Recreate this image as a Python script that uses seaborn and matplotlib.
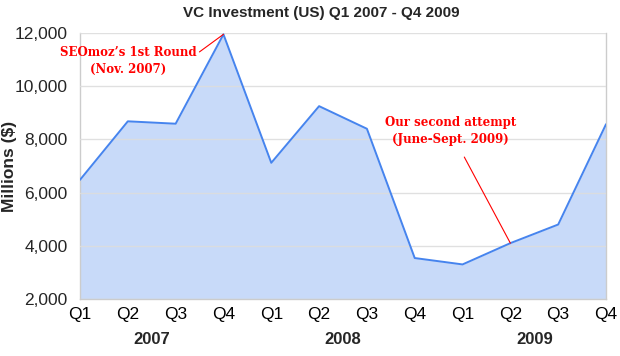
import matplotlib
matplotlib.use('Agg')
import matplotlib.pyplot as plt
import matplotlib.transforms as mtransforms
import seaborn as sns
import pandas as pd

# Quarterly VC investment (US), millions of dollars
quarters = ['Q1', 'Q2', 'Q3', 'Q4'] * 3
years = ['2007', '2008', '2009']
investment = [6480, 8680, 8590, 11950,
              7120, 9250, 8400, 3540,
              3300, 4100, 4800, 8570]

line_color = '#4684ee'
fill_color = '#c8daf9'
grid_color = '#dddddd'
red = '#ff0000'

df = pd.DataFrame({'idx': range(len(investment)), 'value': investment})

sns.set_style('white')
plt.rcParams['font.family'] = ['Liberation Sans', 'DejaVu Sans']

fig = plt.figure(figsize=(6.2, 3.56), dpi=100)
ax = fig.add_axes([80 / 620, 1 - 299 / 356, (606 - 80) / 620, (299 - 33) / 356])

ax.fill_between(df['idx'], df['value'], 2000, color=fill_color, linewidth=0, zorder=1)
sns.lineplot(data=df, x='idx', y='value', ax=ax, color=line_color, linewidth=1.4, zorder=3)

ax.set_xlim(0, len(investment) - 1)
ax.set_ylim(2000, 12000)
ax.set_yticks(range(2000, 12001, 2000))
ax.set_yticklabels([f'{v:,}' for v in range(2000, 12001, 2000)], fontsize=12.5)
ax.set_xticks(range(len(quarters)))
ax.set_xticklabels(quarters, fontsize=12.5)
ax.yaxis.grid(True, color=grid_color, linewidth=1, zorder=0)
ax.set_axisbelow(False)
for g in ax.get_ygridlines():
    g.set_zorder(2)
    g.set_alpha(0.9)

ax.tick_params(axis='x', length=4, width=0.8, color='#cccccc', pad=2, colors='black')
ax.tick_params(axis='x', color='#cccccc')
ax.tick_params(axis='y', length=0, pad=9)
for side in ['top']:
    ax.spines[side].set_visible(False)
for side in ['left', 'right', 'bottom']:
    ax.spines[side].set_color('#cccccc')
    ax.spines[side].set_linewidth(1)

ax.set_xlabel('')
ax.set_ylabel('')

# year labels under each group of quarters
trans = mtransforms.blended_transform_factory(ax.transData, fig.transFigure)
for i, yr in enumerate(years):
    ax.text(1.5 + 4 * i, 1 - 340 / 356, yr, transform=trans, ha='center', va='center',
            fontsize=12, fontweight='bold')

fig.text(10 / 620, 1 - 166 / 356, 'Millions ($)', rotation=90, ha='center', va='center',
         fontsize=12.5, fontweight='bold')
fig.text(321 / 620, 1 - 13 / 356, 'VC Investment (US) Q1 2007 - Q4 2009', ha='center',
         va='center', fontsize=11, fontweight='bold')

# annotations
ax.annotate("SEOmoz’s 1st Round\n(Nov. 2007)", xy=(3, 11950), xytext=(1.0, 10950),
            ha='center', va='center', color=red, fontsize=8.5, fontweight='bold',
            family=['DejaVu Serif'], linespacing=1.4,
            arrowprops=dict(arrowstyle='-', color=red, lw=0.8, shrinkA=0, shrinkB=0,
                            relpos=(1.0, 0.72)))
ax.annotate("Our second attempt\n(June-Sept. 2009)", xy=(9, 4100), xytext=(7.75, 8300),
            ha='center', va='center', color=red, fontsize=8.5, fontweight='bold',
            family=['DejaVu Serif'], linespacing=1.4,
            arrowprops=dict(arrowstyle='-', color=red, lw=0.8, shrinkA=6, shrinkB=0))

fig.savefig('out.png', dpi=100)
